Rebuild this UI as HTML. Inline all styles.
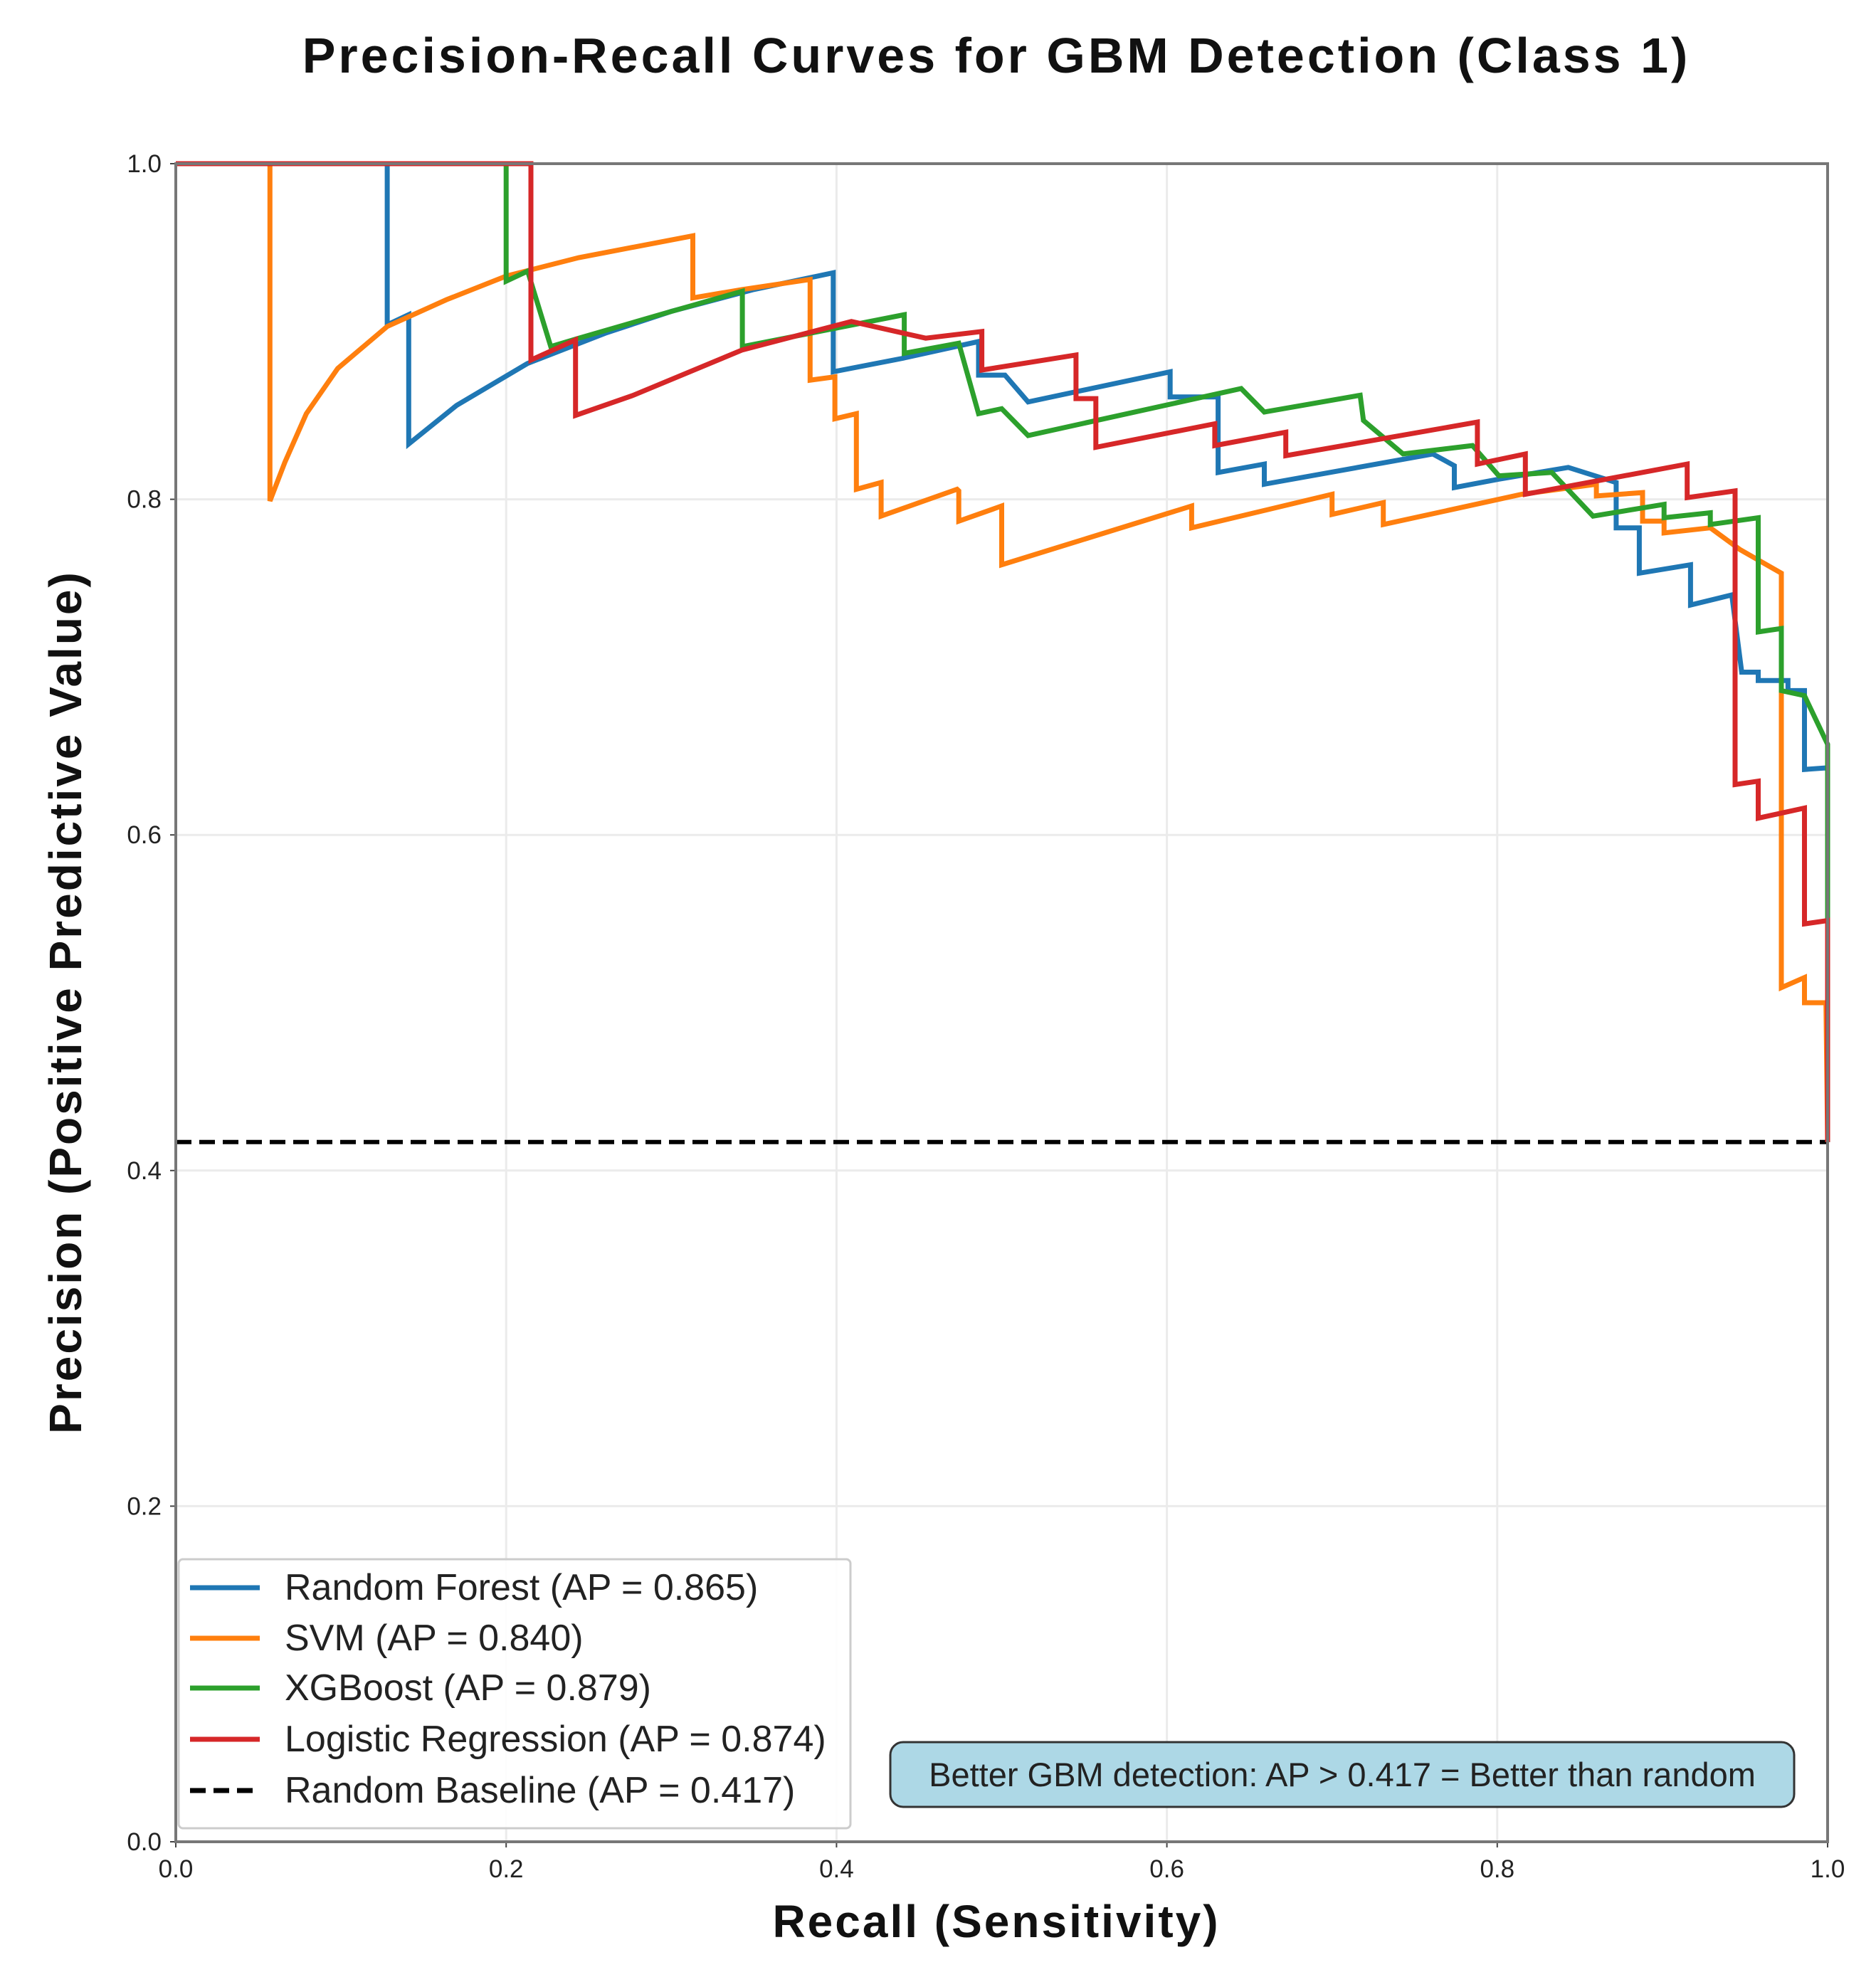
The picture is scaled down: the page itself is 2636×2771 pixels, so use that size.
<!DOCTYPE html>
<html><head><meta charset="utf-8">
<style>
html,body{margin:0;padding:0;background:#fff;}
svg{display:block;font-family:"Liberation Sans","DejaVu Sans",sans-serif;}
</style></head>
<body>
<svg id="chart" width="2636" height="2771" viewBox="0 0 2636 2771" xmlns="http://www.w3.org/2000/svg">
<rect width="2636" height="2771" fill="#fff"/>
<text x="1400" y="102" text-anchor="middle" font-size="70" font-weight="bold" fill="#111" letter-spacing="4">Precision-Recall Curves for GBM Detection (Class 1)</text>
<g id="grid"></g>
<g id="series"></g>
<g id="axes"></g>
<text x="1400" y="2722" text-anchor="middle" font-size="64" font-weight="bold" fill="#111" letter-spacing="3">Recall (Sensitivity)</text>
<text transform="translate(114,1408) rotate(-90)" text-anchor="middle" font-size="64" font-weight="bold" fill="#111" letter-spacing="3">Precision (Positive Predictive Value)</text>
<g>
<rect x="251" y="2191" width="944" height="378" rx="6" fill="#fff" fill-opacity="0.9" stroke="#ccc" stroke-width="3"/>
<g id="legend-entries"></g>
</g>
<g>
<rect x="1251" y="2448" width="1270" height="91" rx="18" fill="#add8e6" stroke="#333" stroke-width="3"/>
<text x="1886" y="2510" text-anchor="middle" font-size="47" fill="#222">Better GBM detection: AP &gt; 0.417 = Better than random</text>
</g>
</svg>
<script>
const xTicks=[0,0.2,0.4,0.6,0.8,1.0];
const yTicks=[0,0.2,0.4,0.6,0.8,1.0];
const tickLabels=["0.0","0.2","0.4","0.6","0.8","1.0"];
const seriesNames=["Random Forest (AP = 0.865)","SVM (AP = 0.840)","XGBoost (AP = 0.879)","Logistic Regression (AP = 0.874)"];
const seriesColors=["#1f77b4","#ff7f0e","#2ca02c","#d62728"];
const baselineValue=0.417;
const baselineLabel="Random Baseline (AP = 0.417)";
const rfRecall=[0,0.128,0.128,0.141,0.141,0.17,0.213,0.26,0.30,0.35,0.398,0.398,0.44,0.486,0.486,0.502,0.516,0.602,0.602,0.631,0.631,0.659,0.659,0.761,0.774,0.774,0.801,0.843,0.872,0.872,0.886,0.886,0.917,0.917,0.942,0.948,0.958,0.958,0.976,0.976,0.986,0.986,1.0,1.0];
const rfPrecision=[1,1,0.904,0.91,0.833,0.856,0.881,0.899,0.912,0.925,0.935,0.876,0.884,0.894,0.874,0.874,0.858,0.876,0.861,0.861,0.816,0.821,0.809,0.827,0.82,0.807,0.812,0.819,0.81,0.783,0.783,0.756,0.761,0.737,0.743,0.697,0.697,0.692,0.692,0.686,0.686,0.639,0.64,0.417];
const svmRecall=[0,0.057,0.057,0.066,0.079,0.098,0.128,0.164,0.2,0.244,0.313,0.313,0.343,0.384,0.384,0.399,0.399,0.412,0.412,0.427,0.427,0.473,0.474,0.474,0.5,0.5,0.615,0.615,0.7,0.7,0.731,0.731,0.815,0.86,0.86,0.888,0.888,0.901,0.901,0.929,0.947,0.972,0.972,0.986,0.986,0.999,1.0];
const svmPrecision=[1,1,0.799,0.822,0.851,0.878,0.903,0.919,0.933,0.944,0.957,0.92,0.925,0.931,0.871,0.873,0.848,0.851,0.806,0.81,0.79,0.806,0.805,0.787,0.796,0.761,0.796,0.783,0.803,0.791,0.798,0.785,0.803,0.809,0.802,0.804,0.787,0.787,0.78,0.783,0.77,0.756,0.509,0.515,0.5,0.5,0.417];
const xgbRecall=[0,0.2,0.2,0.213,0.227,0.244,0.293,0.343,0.343,0.441,0.441,0.474,0.486,0.5,0.516,0.645,0.659,0.717,0.719,0.743,0.785,0.801,0.833,0.858,0.901,0.901,0.929,0.929,0.958,0.958,0.972,0.972,0.986,1.0,1.0,1.0];
const xgbPrecision=[1,1,0.93,0.936,0.891,0.896,0.91,0.924,0.891,0.91,0.887,0.893,0.851,0.854,0.838,0.866,0.852,0.862,0.847,0.827,0.832,0.814,0.816,0.79,0.797,0.789,0.792,0.785,0.789,0.721,0.723,0.686,0.683,0.654,0.553,0.417];
const lrRecall=[0,0.215,0.215,0.242,0.242,0.277,0.343,0.409,0.454,0.488,0.488,0.545,0.545,0.557,0.557,0.629,0.629,0.672,0.672,0.788,0.788,0.817,0.817,0.915,0.915,0.944,0.944,0.958,0.958,0.986,0.986,1.0,1.0];
const lrPrecision=[1,1,0.883,0.895,0.85,0.862,0.889,0.906,0.896,0.9,0.877,0.886,0.86,0.86,0.831,0.845,0.832,0.84,0.826,0.846,0.821,0.827,0.803,0.821,0.801,0.805,0.63,0.632,0.61,0.616,0.547,0.549,0.417];

const NS="http://www.w3.org/2000/svg";
const X0=247,X1=2568,Y0=2588,Y1=230;
function xs(v){return X0+(X1-X0)*v;}
function ys(v){return Y0-(Y0-Y1)*v;}
function mk(tag,attrs,parent){const e=document.createElementNS(NS,tag);for(const k in attrs)e.setAttribute(k,attrs[k]);parent.appendChild(e);return e;}
const grid=document.getElementById('grid'),axes=document.getElementById('axes'),series=document.getElementById('series');
xTicks.forEach((t,i)=>{
  const g=mk('line',{x1:xs(t),x2:xs(t),y1:Y1,y2:Y0,stroke:'#ebebeb','stroke-width':3},grid);
  
  
  const tk=mk('line',{x1:xs(t),x2:xs(t),y1:Y0,y2:Y0+8,stroke:'#444','stroke-width':2},axes);
  
  
  const tx=mk('text',{x:xs(t),y:Y0+50,'text-anchor':'middle','font-size':35,fill:'#222'},axes);
  tx.textContent=tickLabels[i];
  
  
});
yTicks.forEach((t,i)=>{
  const g=mk('line',{x1:X0,x2:X1,y1:ys(t),y2:ys(t),stroke:'#ebebeb','stroke-width':3},grid);
  
  
  const tk=mk('line',{x1:X0-8,x2:X0,y1:ys(t),y2:ys(t),stroke:'#444','stroke-width':2},axes);
  
  
  const tx=mk('text',{x:X0-20,y:ys(t)+12,'text-anchor':'end','font-size':35,fill:'#222'},axes);
  tx.textContent=tickLabels[i];
  
  
});
const frame=mk('rect',{x:X0,y:Y1,width:X1-X0,height:Y0-Y1,fill:'none',stroke:'#777','stroke-width':4},axes);



const bl=mk('line',{x1:xs(0),x2:xs(1),y1:ys(baselineValue),y2:ys(baselineValue),stroke:'#000','stroke-width':6,'stroke-dasharray':'22,11'},series);


const allR=[rfRecall,svmRecall,xgbRecall,lrRecall],allP=[rfPrecision,svmPrecision,xgbPrecision,lrPrecision];
const lineNames=['random-forest-curve','svm-curve','xgboost-curve','logistic-regression-curve'];
for(let s=0;s<4;s++){
  const pts=allR[s].map((r,i)=>xs(r).toFixed(1)+','+ys(allP[s][i]).toFixed(1)).join(' ');
  const pl=mk('polyline',{points:pts,fill:'none',stroke:seriesColors[s],'stroke-width':7,'stroke-linejoin':'miter'},series);
  
  
}
const le=document.getElementById('legend-entries');
const ly=[2231,2302,2372,2444,2516];
for(let i=0;i<5;i++){
  const isB=i===4;
  const ln=mk('line',{x1:267,x2:365,y1:ly[i],y2:ly[i],stroke:isB?'#000':seriesColors[i],'stroke-width':7},le);
  if(isB)ln.setAttribute('stroke-dasharray','22,11');
  
  
  const tx=mk('text',{x:400,y:ly[i]+17,'font-size':52,fill:'#222'},le);
  tx.textContent=isB?baselineLabel:seriesNames[i];
  
  
}
</script>
</body></html>
